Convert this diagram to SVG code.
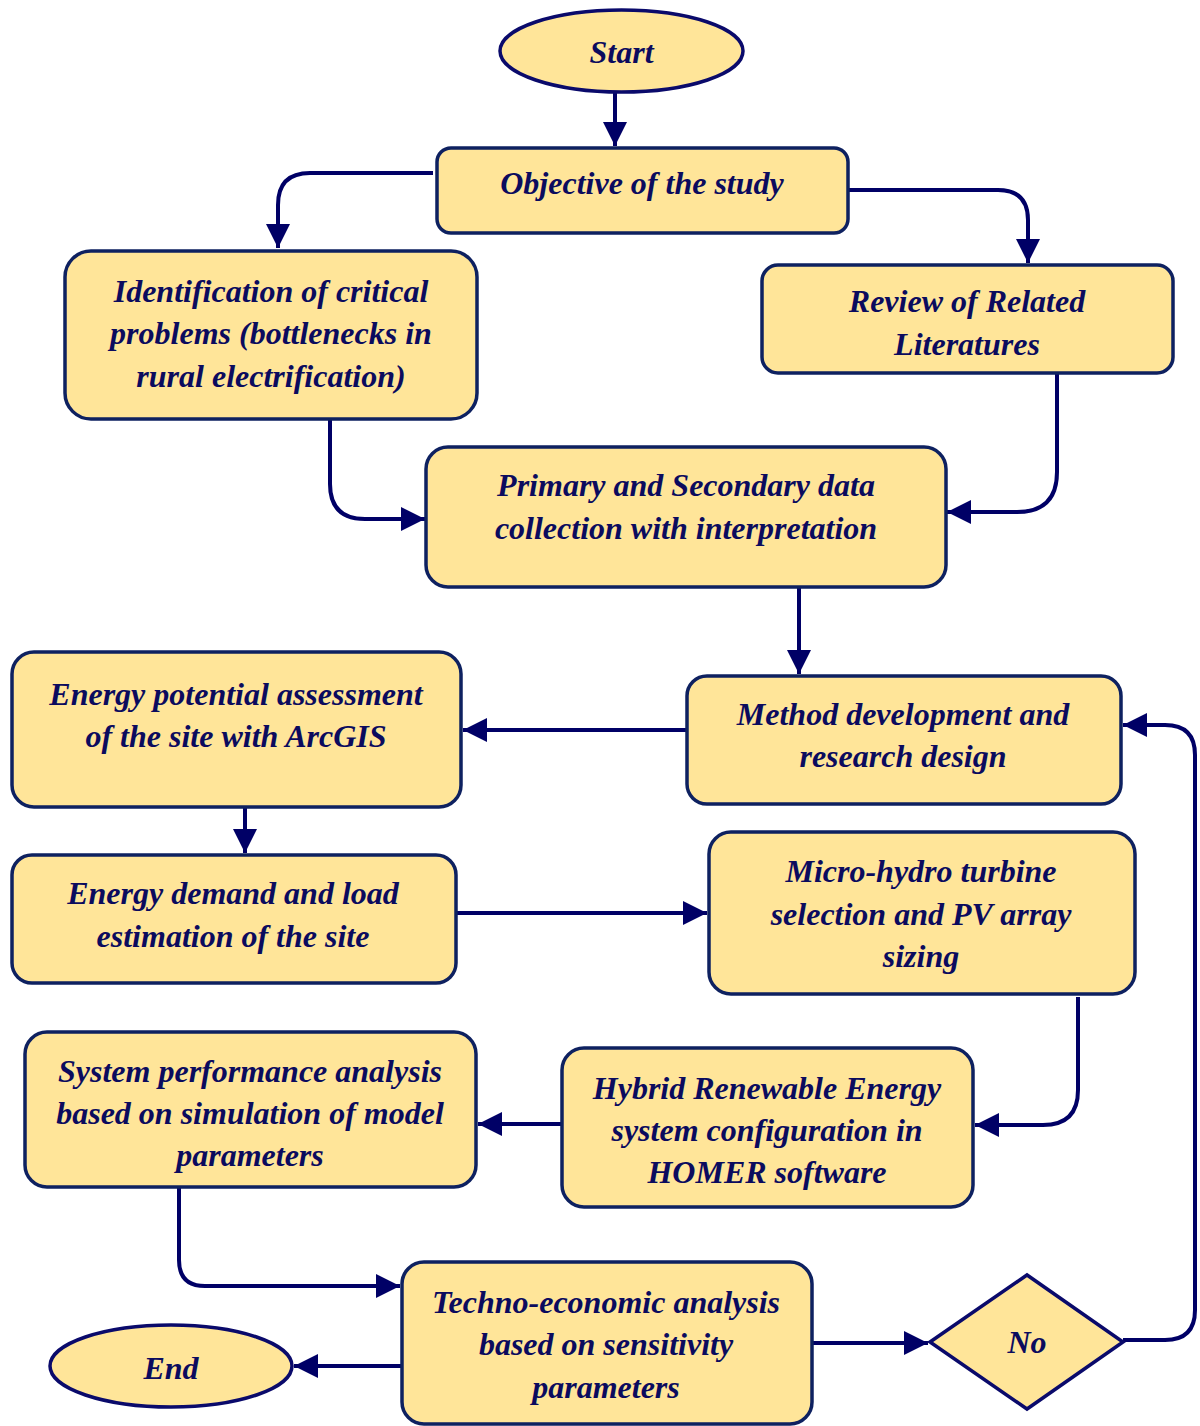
<svg xmlns="http://www.w3.org/2000/svg" width="1200" height="1426" viewBox="0 0 1200 1426">
<defs>
<style>
.box{fill:#FFE599;stroke:#0E2160;stroke-width:3.5}
.term{fill:#FFE599;stroke:#0A0A6B;stroke-width:3.5}
.t{font-family:"Liberation Serif","Times New Roman",serif;font-weight:bold;font-style:italic;font-size:32px;fill:#0B0B5E;text-anchor:middle;dominant-baseline:central}
.c{fill:none;stroke:#000066;stroke-width:4;marker-end:url(#ah)}
</style>
<marker id="ah" viewBox="0 0 10 10" refX="10" refY="5" markerWidth="6" markerHeight="6" markerUnits="strokeWidth" orient="auto">
<path d="M0,0 L10,5 L0,10 Z" fill="#000066"/>
</marker>
</defs>
<rect width="1200" height="1426" fill="#FFFFFF"/>
<g id="connectors">
<path class="c" d="M615,92 V146"/>
<path class="c" d="M433,173 H310 Q278,173 278,205 V248"/>
<path class="c" d="M848,190 H998 Q1028,190 1028,220 V263"/>
<path class="c" d="M330,420 V484 Q330,519 365,519 H425"/>
<path class="c" d="M1057,373 V472 Q1057,512 1017,512 H947"/>
<path class="c" d="M799,587 V674"/>
<path class="c" d="M687,730 H463"/>
<path class="c" d="M245,807 V853"/>
<path class="c" d="M452,913 H707"/>
<path class="c" d="M1078,997 V1090 Q1078,1125 1043,1125 H975"/>
<path class="c" d="M562,1124 H478"/>
<path class="c" d="M179,1187 V1260 Q179,1286 205,1286 H400"/>
<path class="c" d="M811,1343 H928"/>
<path class="c" d="M402,1366 H294"/>
<path class="c" d="M1123,1340 H1165 Q1195,1340 1195,1310 V755 Q1195,725 1165,725 H1123"/>
</g>
<g id="start">
<ellipse class="term" cx="621.5" cy="51" rx="121.5" ry="41"/>
<text class="t" x="621.5" y="52">Start</text>
</g>
<g id="objective">
<rect class="box" x="437" y="148" width="411" height="85" rx="14"/>
<text class="t" x="642" y="183">Objective of the study</text>
</g>
<g id="identification">
<rect class="box" x="65" y="251" width="412" height="168" rx="26"/>
<text class="t" x="271" y="291">Identification of critical</text>
<text class="t" x="271" y="333">problems (bottlenecks in</text>
<text class="t" x="271" y="376">rural electrification)</text>
</g>
<g id="review">
<rect class="box" x="762" y="265" width="411" height="108" rx="16"/>
<text class="t" x="967" y="301">Review of Related</text>
<text class="t" x="967" y="344">Literatures</text>
</g>
<g id="primary">
<rect class="box" x="426" y="447" width="520" height="140" rx="22"/>
<text class="t" x="686" y="485">Primary and Secondary data</text>
<text class="t" x="686" y="528">collection with interpretation</text>
</g>
<g id="method">
<rect class="box" x="687" y="676" width="434" height="128" rx="20"/>
<text class="t" x="903" y="714">Method development and</text>
<text class="t" x="903" y="756">research design</text>
</g>
<g id="potential">
<rect class="box" x="12" y="652" width="449" height="155" rx="22"/>
<text class="t" x="236" y="694">Energy potential assessment</text>
<text class="t" x="236" y="736">of the site with ArcGIS</text>
</g>
<g id="demand">
<rect class="box" x="12" y="855" width="444" height="128" rx="20"/>
<text class="t" x="233" y="893">Energy demand and load</text>
<text class="t" x="233" y="936">estimation of the site</text>
</g>
<g id="microhydro">
<rect class="box" x="709" y="832" width="426" height="162" rx="22"/>
<text class="t" x="921" y="871">Micro-hydro turbine</text>
<text class="t" x="921" y="914">selection and PV array</text>
<text class="t" x="921" y="956">sizing</text>
</g>
<g id="performance">
<rect class="box" x="25" y="1032" width="451" height="155" rx="22"/>
<text class="t" x="250" y="1071">System performance analysis</text>
<text class="t" x="250" y="1113">based on simulation of model</text>
<text class="t" x="250" y="1155">parameters</text>
</g>
<g id="hybrid">
<rect class="box" x="562" y="1048" width="411" height="159" rx="22"/>
<text class="t" x="767" y="1088">Hybrid Renewable Energy</text>
<text class="t" x="767" y="1130">system configuration in</text>
<text class="t" x="767" y="1172">HOMER software</text>
</g>
<g id="techno">
<rect class="box" x="402" y="1262" width="410" height="162" rx="22"/>
<text class="t" x="606" y="1302">Techno-economic analysis</text>
<text class="t" x="606" y="1344">based on sensitivity</text>
<text class="t" x="606" y="1387">parameters</text>
</g>
<g id="no">
<polygon class="term" points="930,1342 1027,1275 1123,1342 1027,1409"/>
<text class="t" x="1027" y="1342">No</text>
</g>
<g id="end">
<ellipse class="term" cx="171" cy="1366" rx="121" ry="41"/>
<text class="t" x="171" y="1368">End</text>
</g>
</svg>
